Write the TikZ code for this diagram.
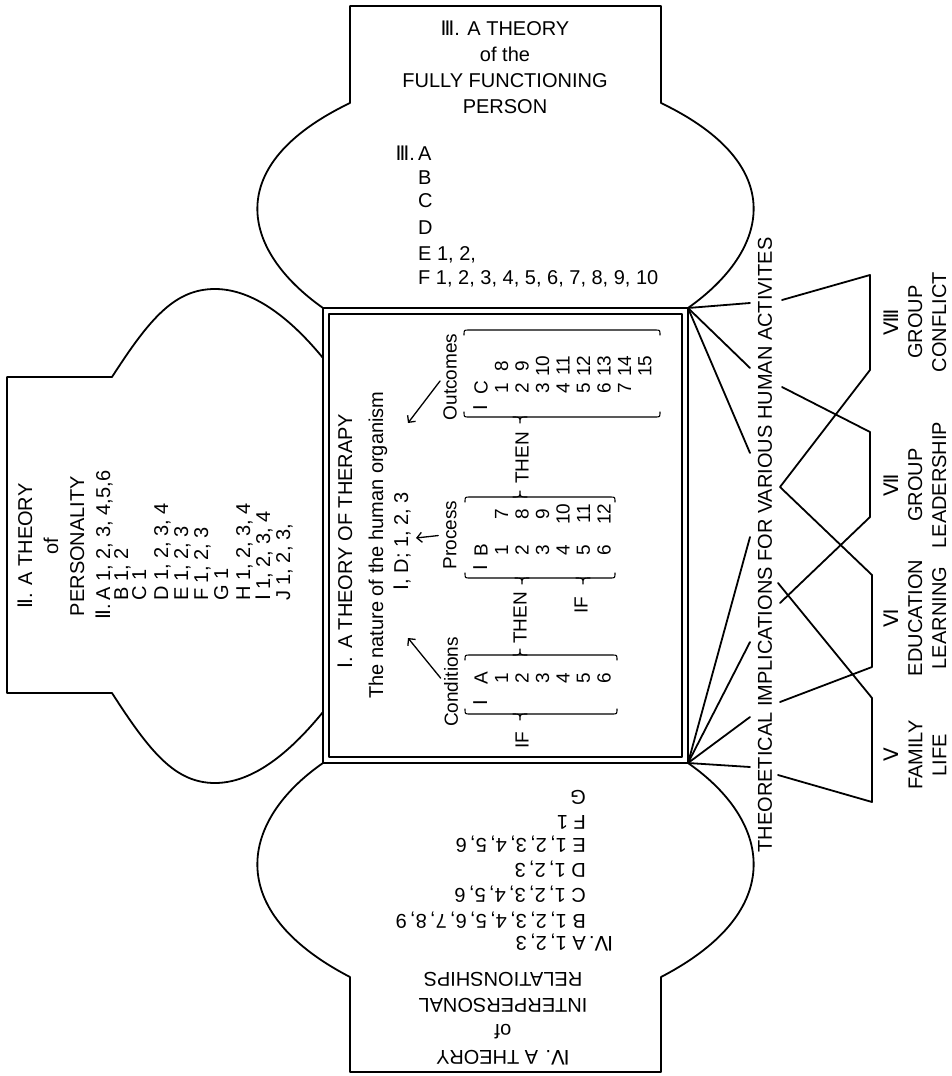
\documentclass[tikz,border=0pt]{standalone}
\usepackage{fontspec}
\setmainfont{Liberation Sans}
\newfontfamily\rnfont{DejaVu Sans}
\usetikzlibrary{arrows,arrows.meta,positioning,calc}

% roman numerals with bars
\newcommand{\rn}[1]{{\rnfont #1}}
% flat brace: from x1 to x2 at height y, hooks bend away from side d
\newcommand{\hbr}[4]{%
  \draw[brace line] ({#1},{#3-(#4)*5}) .. controls ({#1},{#3}) .. ({#1+5},{#3})
    -- ({#2-5},{#3}) .. controls ({#2},{#3}) .. ({#2},{#3-(#4)*5});}
% tip of a brace at x on height y, pointing to side d
\newcommand{\hbrtip}[3]{%
  \draw[brace line] ({#1-7},{#2}) .. controls ({#1},{#2}) .. ({#1},{#2+(#3)*6})
    .. controls ({#1},{#2}) .. ({#1+7},{#2});}

\begin{document}
\begin{tikzpicture}[x=1pt,y=-1pt,line join=round,line cap=round]
  % Styles
  \tikzstyle{outline}=[line width=1.8pt]
  \tikzstyle{box line}=[line width=1.5pt]
  \tikzstyle{brace line}=[line width=1.1pt]
  \tikzstyle{pointer}=[-{Straight Barb[length=5pt,width=10pt]},line width=1.3pt,shorten <=5pt]
  \tikzstyle{txt}=[inner sep=0pt,font=\fontsize{20}{26}\selectfont]
  \tikzstyle{vtxt}=[txt,rotate=90]
  \tikzstyle{mtx}=[inner sep=0pt,font=\fontsize{19}{22}\selectfont,rotate=90]

  \useasboundingbox (0,0) rectangle (951,1076);

  % The lobes
  \draw[outline] (323,308) .. controls (241,250) and (221,165) .. (350,103)
    -- (350,6) -- (661,6) -- (661,103) .. controls (790,165) and (770,250) .. (688,308);
  \draw[outline] (323,763) .. controls (241,820) and (221,910) .. (350,977)
    -- (350,1072) -- (661,1072) -- (661,977) .. controls (790,910) and (770,820) .. (688,763);
  \draw[outline] (323,358) .. controls (300,330) and (260,289) .. (215,289)
    .. controls (175,289) and (150,318) .. (112,377) -- (7,377) -- (7,693) -- (112,693)
    .. controls (150,752) and (175,783) .. (215,783) .. controls (260,783) and (300,740) .. (323,712);

  % The central box
  \draw[box line] (323,308) rectangle (688,763);
  \draw[box line] (329,314) rectangle (682,757);
  \coordinate (tr) at (688,308);
  \coordinate (br) at (688,763);

  % III
  \node[txt,align=center] (t3) at (505,67)
    {\rn{Ⅲ}. A THEORY\\of the\\FULLY FUNCTIONING\\PERSON};
  \foreach \y/\l in {160/{\llap{\rn{Ⅲ}.\,}A}, 184/B, 207/C, 234/D, 260/{E 1, 2,},
      284/{F 1, 2, 3, 4, 5, 6, 7, 8, 9, 10}}
    \node[txt,anchor=base west] (l3-\y) at (418,\y) {\l};

  % II
  \node[vtxt,align=center] (t2) at (51,546) {\rn{Ⅱ}. A THEORY\\of\\PERSONALITY};
  \foreach \x/\l in {110/{\llap{\rn{Ⅱ}.\,}A 1, 2, 3, 4,5,6}, 128/{B 1, 2}, 146/{C 1},
      168/{D 1, 2, 3, 4}, 188/{E 1, 2, 3}, 208/{F 1, 2, 3}, 228/{G 1},
      250/{H 1, 2, 3, 4}, 270/{\rn{Ⅰ} 1, 2, 3, 4}, 290/{J 1, 2, 3,}}
    \node[vtxt,anchor=base west] (l2-\x) at (\x,601) {\l};

  % IV
  \node[txt,align=center,rotate=180] (t4) at (503,1019)
    {\rn{Ⅳ}. A THEORY\\of\\INTERPERSONAL\\RELATIONSHIPS};
  \foreach \y/\l in {936/{\llap{\rn{Ⅳ}.\,}A 1,\,2,\,3}, 914/{B 1,\,2,\,3,\,4,\,5,\,6,\,7,\,8,\,9},
      888/{C 1,\,2,\,3,\,4,\,5,\,6}, 863/{D 1,\,2,\,3}, 838/{E 1,\,2,\,3,\,4,\,5,\,6},
      815/{F 1}, 790/G}
    \node[txt,rotate=180,anchor=base west] (l4-\y) at (586,\y) {\l};

  % I
  \node[vtxt] (t1) at (345,541) {\rn{Ⅰ}.\hspace{8pt}A THEORY OF THERAPY};
  \node[vtxt] (nat) at (378,545) {The nature of the human organism};
  \node[vtxt] (id) at (402,541) {\rn{Ⅰ}, D; 1, 2, 3};

  \node[mtx] (cond) at (451,682) {Conditions};
  \node[mtx] (proc) at (450,535) {Process};
  \node[mtx] (outc) at (450,377) {Outcomes};
  \coordinate (ac) at (408,638);
  \coordinate (ap) at (416,538);
  \coordinate (ao) at (408,423);
  \draw[pointer] (cond.north) -- (ac);
  \draw[pointer] (proc.north) -- (ap);
  \draw[pointer] (outc.north) -- (ao);

  % Conditions
  \node[mtx] (cI) at (481,703) {\rn{Ⅰ}};
  \node[mtx] (cA) at (481,678) {A};
  \foreach \n in {1,...,6}
    \node[mtx] (c\n) at (481+20.5*\n,678) {\n};
  % Process
  \node[mtx] (pI) at (481,568) {\rn{Ⅰ}};
  \node[mtx] (pB) at (481,550) {B};
  \foreach \n in {1,...,6}
    \node[mtx] (p\n) at (481+20.5*\n,550) {\n};
  \foreach \n in {7,...,12}
    \node[mtx] (p\n) at (481+20.5*\n-123,514) {\n};
  % Outcomes
  \node[mtx] (oI) at (481,408) {\rn{Ⅰ}};
  \node[mtx] (oC) at (481,388) {C};
  \foreach \n in {1,...,7}
    \node[mtx] (o\n) at (481+20.5*\n,388) {\n};
  \foreach \n in {8,...,15}
    \node[mtx] (o\n) at (481+20.5*\n-143.5,366) {\n};

  \hbr{465}{617}{714}{1}   \hbrtip{520}{714}{1}
  \hbr{465}{617}{655}{-1}  \hbrtip{520}{655}{-1}
  \hbr{465}{615}{578}{1}   \hbrtip{522}{578}{1} \hbrtip{583}{578}{1}
  \hbr{465}{615}{497}{-1}  \hbrtip{520}{497}{-1}
  \hbr{464}{660}{417}{1}   \hbrtip{520}{417}{1}
  \hbr{464}{660}{330}{-1}

  \node[mtx] (if1) at (522,740) {IF};
  \node[mtx] (then1) at (520,618) {THEN};
  \node[mtx] (if2) at (581,605) {IF};
  \node[mtx] (then2) at (522,458) {THEN};

  % Implications
  \node[vtxt] (hub) at (765,545) {THEORETICAL IMPLICATIONS FOR VARIOUS HUMAN ACTIVITES};
  \foreach \y in {303,368,453}
    \draw[outline] (tr) -- (750,\y);
  \foreach \y in {537,642,717,767}
    \draw[outline] (br) -- (750,\y);
  \draw[outline] (782,300) -- (870,275) -- (870,370) -- (780,487) -- (872,575)
    -- (872,667) -- (780,702);
  \draw[outline] (782,387) -- (870,432) -- (870,517) -- (780,603);
  \draw[outline] (778,583) -- (872,698) -- (872,802) -- (778,775);

  \foreach \n/\y/\a/\b in {Ⅷ/322/GROUP/CONFLICT, Ⅶ/485/GROUP/LEADERSHIP,
      Ⅵ/618/EDUCATION/LEARNING, Ⅴ/755/FAMILY/LIFE}
    \node[vtxt,align=center,font=\fontsize{20}{24}\selectfont] (act-\y) at (915,\y)
      {\rn{\n}\\\a\\\b};
\end{tikzpicture}
\end{document}
